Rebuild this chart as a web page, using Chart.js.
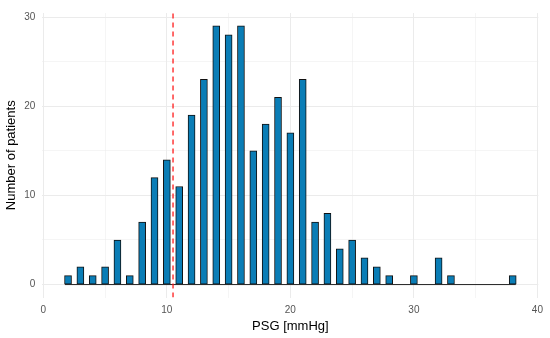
<!DOCTYPE html>
<html>
<head>
<meta charset="utf-8">
<script src="https://cdn.jsdelivr.net/npm/chart.js@4/dist/chart.umd.min.js"></script>
<style>
  html, body { margin: 0; padding: 0; background: #fff; }
</style>
</head>
<body>
<canvas id="psgChart" width="550" height="338"></canvas>
<script>
// data
const psgValues = [2, 3, 4, 5, 6, 7, 8, 9, 10, 11, 12, 13, 14, 15, 16, 17, 18, 19, 20,
  21, 22, 23, 24, 25, 26, 27, 28, 29, 30, 31, 32, 33, 34, 35, 36, 37, 38];
const patientCounts = [1, 2, 1, 2, 5, 1, 7, 12, 14, 11, 19, 23, 29, 28, 29, 15, 18, 21, 17,
  23, 7, 8, 4, 5, 3, 2, 1, 0, 1, 0, 3, 1, 0, 0, 0, 0, 1];
const cutoff = 10.5;
const binRange = [1.75, 38.25];
const xTicks = [0, 10, 20, 30, 40];
const yTicks = [0, 10, 20, 30];

const xMin = -0.075, xMax = 40.075;
const yMin = -1.45, yMax = 30.45;

const barData = psgValues.map((v, i) => ({x: v, y: patientCounts[i]}));

const ctx = document.getElementById('psgChart').getContext('2d');

function gridWidth(ctx) {
  const v = ctx.tick ? ctx.tick.value : 0;
  return v % 10 === 0 ? 1 : 0.5;
}

const font = 'Liberation Sans, Arial, Helvetica, sans-serif';

const config = {
  type: 'bar',
  data: {
    datasets: [
      {
        type: 'bar',
        data: barData,
        backgroundColor: '#0a7db6',
        borderColor: '#111',
        borderWidth: 1,
        borderSkipped: false,
        barThickness: 7,
        order: 2
      },
      {
        type: 'line',
        data: [{x: binRange[0], y: 0}, {x: binRange[1], y: 0}],
        borderColor: '#222',
        borderWidth: 1,
        pointRadius: 0,
        order: 1
      },
      {
        type: 'line',
        data: [{x: cutoff, y: yMin}, {x: cutoff, y: yMax}],
        borderColor: '#ff1a1a',
        borderWidth: 1.3,
        borderDash: [5, 4],
        pointRadius: 0,
        order: 0
      }
    ]
  },
  options: {
    responsive: false,
    animation: false,
    layout: {
      padding: {top: 6, right: 10, left: 0, bottom: 0}
    },
    plugins: {
      legend: {display: false},
      tooltip: {enabled: false}
    },
    scales: {
      x: {
        type: 'linear',
        offset: false,
        min: xMin,
        max: xMax,
        afterBuildTicks: (scale) => {
          scale.ticks = [0, 5, 10, 15, 20, 25, 30, 35, 40].map(v => ({value: v}));
        },
        afterFit: (scale) => { scale.height = 40.5; },
        border: {display: false},
        grid: {
          offset: false,
          color: '#ebebeb',
          lineWidth: gridWidth,
          drawTicks: false
        },
        ticks: {
          padding: 7,
          color: '#555',
          font: {family: font, size: 10},
          maxRotation: 0,
          callback: (v) => xTicks.includes(v) ? String(v) : ''
        },
        title: {
          display: true,
          text: 'PSG [mmHg]',
          color: '#000',
          font: {family: font, size: 13}
        }
      },
      y: {
        min: yMin,
        max: yMax,
        afterBuildTicks: (scale) => {
          scale.ticks = [0, 5, 10, 15, 20, 25, 30].map(v => ({value: v}));
        },
        afterFit: (scale) => { scale.width = 42.4; },
        border: {display: false},
        grid: {
          color: '#ebebeb',
          lineWidth: gridWidth,
          drawTicks: false
        },
        ticks: {
          padding: 7,
          color: '#555',
          font: {family: font, size: 10},
          callback: (v) => yTicks.includes(v) ? String(v) : ''
        },
        title: {
          display: true,
          text: 'Number of patients',
          color: '#000',
          font: {family: font, size: 13}
        }
      }
    }
  }
};

const psgChart = new Chart(ctx, config);
</script>
</body>
</html>
